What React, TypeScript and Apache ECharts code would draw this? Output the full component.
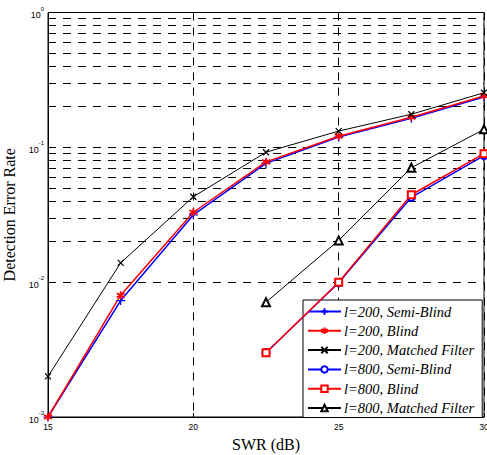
import React, { useEffect, useRef } from "react";
import * as echarts from "echarts";

const swrDb200 = [15, 17.5, 20, 22.5, 25, 27.5, 30];
const swrDb800 = [22.5, 25, 27.5, 30];
const l200SemiBlind = [0.001, 0.0073, 0.0315, 0.076, 0.119, 0.164, 0.236];
const l200Blind = [0.001, 0.008, 0.033, 0.078, 0.121, 0.167, 0.24];
const l200Matched = [0.002, 0.0139, 0.043, 0.092, 0.132, 0.176, 0.254];
const l800SemiBlind = [0.003, 0.0099, 0.0426, 0.0867];
const l800Blind = [0.003, 0.01, 0.0445, 0.0897];
const l800Matched = [0.0071, 0.0204, 0.0706, 0.136];

const seriesNames = [
  "l=200, Semi-Blind",
  "l=200, Blind",
  "l=200, Matched Filter",
  "l=800, Semi-Blind",
  "l=800, Blind",
  "l=800, Matched Filter",
];

const minorMantissas = [2, 3, 4, 5, 6, 7, 8, 9];
const decades = [0.001, 0.01, 0.1];

const PLUS = "path://M5,0L5,10M0,5L10,5";
const STAR = "path://M5,0L5,10M0.67,2.5L9.33,7.5M0.67,7.5L9.33,2.5";
const CROSS = "path://M0,0L10,10M0,10L10,0";

const zip = (xs: number[], ys: number[]) => xs.map((x, i) => [x, ys[i]]);

export default function App() {
  const ref = useRef<HTMLDivElement>(null);
  useEffect(() => {
    if (!ref.current) return;
    const chart = echarts.init(ref.current, null, { renderer: "svg" });
    const minorLines: any[] = [];
    decades.forEach((d) =>
      minorMantissas.forEach((m) => minorLines.push({ yAxis: +(m * d).toPrecision(3) }))
    );
    const dash = [8, 7];
    const mk = (
      name: string,
      xs: number[],
      ys: number[],
      color: string,
      symbol: string,
      size: number,
      lw: number,
      bw: number,
      extra: any = {}
    ) => ({
      name,
      type: "line",
      data: zip(xs, ys),
      symbol,
      symbolSize: size,
      showAllSymbol: true,
      lineStyle: { color, width: lw },
      itemStyle: { color, borderColor: color, borderWidth: bw },
      emphasis: { disabled: true },
      z: 5,
      ...extra,
    });
    const option: any = {
      animation: false,
      grid: {
        left: 48,
        right: 3,
        top: 12.5,
        bottom: 38,
        containLabel: false,
        outerBoundsMode: "none",
        show: true,
        borderColor: "#000",
        borderWidth: 1,
        backgroundColor: "transparent",
      },
      xAxis: {
        type: "value",
        min: 15,
        max: 30,
        interval: 5,
        name: "SWR (dB)",
        nameLocation: "middle",
        nameGap: 19,
        nameTextStyle: { fontFamily: "Liberation Serif", fontSize: 16, color: "#000" },
        axisLine: { show: true, lineStyle: { color: "#000" } },
        axisTick: { show: true, inside: true, length: 4, lineStyle: { color: "#000" } },
        axisLabel: { fontFamily: "Liberation Sans", fontSize: 8.5, color: "#000", margin: 5 },
        splitLine: { show: true, lineStyle: { type: dash, color: "#000", width: 1 } },
      },
      yAxis: {
        type: "log",
        logBase: 10,
        min: 0.001,
        max: 1,
        name: "Detection Error Rate",
        nameLocation: "middle",
        nameGap: 27,
        nameTextStyle: { fontFamily: "Liberation Serif", fontSize: 16, color: "#000" },
        axisLine: { show: true, lineStyle: { color: "#000" } },
        axisTick: { show: true, inside: true, length: 4, lineStyle: { color: "#000" } },
        axisLabel: {
          margin: 4,
          formatter: (v: number) => `{b|10}{s|${Math.round(Math.log10(v))}}`,
          rich: {
            b: { fontFamily: "Liberation Sans", fontSize: 9, color: "#000", lineHeight: 14, verticalAlign: "bottom" },
            s: { fontFamily: "Liberation Sans", fontSize: 6, color: "#000", verticalAlign: "top", lineHeight: 14 },
          },
        },
        splitLine: { show: true, lineStyle: { type: dash, color: "#000", width: 1 } },
      },
      legend: {
        orient: "vertical",
        left: 303,
        top: 300,
        backgroundColor: "#fff",
        borderColor: "#000",
        borderWidth: 1,
        padding: [4, 8, 2, 4],
        itemWidth: 33,
        itemHeight: 8,
        itemGap: 4.3,
        data: seriesNames,
        textStyle: {
          fontFamily: "Liberation Serif",
          fontStyle: "italic",
          fontSize: 14.5,
          color: "#000",
          lineHeight: 14,
          padding: [0, 0, 0, -2],
        },
        selectedMode: false,
      },
      series: [
        mk(seriesNames[0], swrDb200, l200SemiBlind, "#0000ff", PLUS, 9, 1.5, 1.2, {
          markLine: {
            silent: true,
            symbol: "none",
            label: { show: false },
            lineStyle: { type: dash, color: "#000", width: 1 },
            data: minorLines,
            z: 1,
          },
        }),
        mk(seriesNames[1], swrDb200, l200Blind, "#ff0000", STAR, 8, 1.5, 1.8),
        mk(seriesNames[2], swrDb200, l200Matched, "#000000", CROSS, 6, 1, 1.2),
        mk(seriesNames[3], swrDb800, l800SemiBlind, "#0000ff", "emptyCircle", 7, 1.5, 1.2),
        mk(seriesNames[4], swrDb800, l800Blind, "#ff0000", "emptyRect", 7, 1.5, 1.2),
        mk(seriesNames[5], swrDb800, l800Matched, "#000000", "emptyTriangle", 8, 1, 1.2),
      ],
    };
    chart.setOption(option);
    return () => chart.dispose();
  }, []);
  return (
    <div
      ref={ref}
      style={{ position: "absolute", left: 0, top: 0, width: 487, height: 455, background: "#fff" }}
    />
  );
}
